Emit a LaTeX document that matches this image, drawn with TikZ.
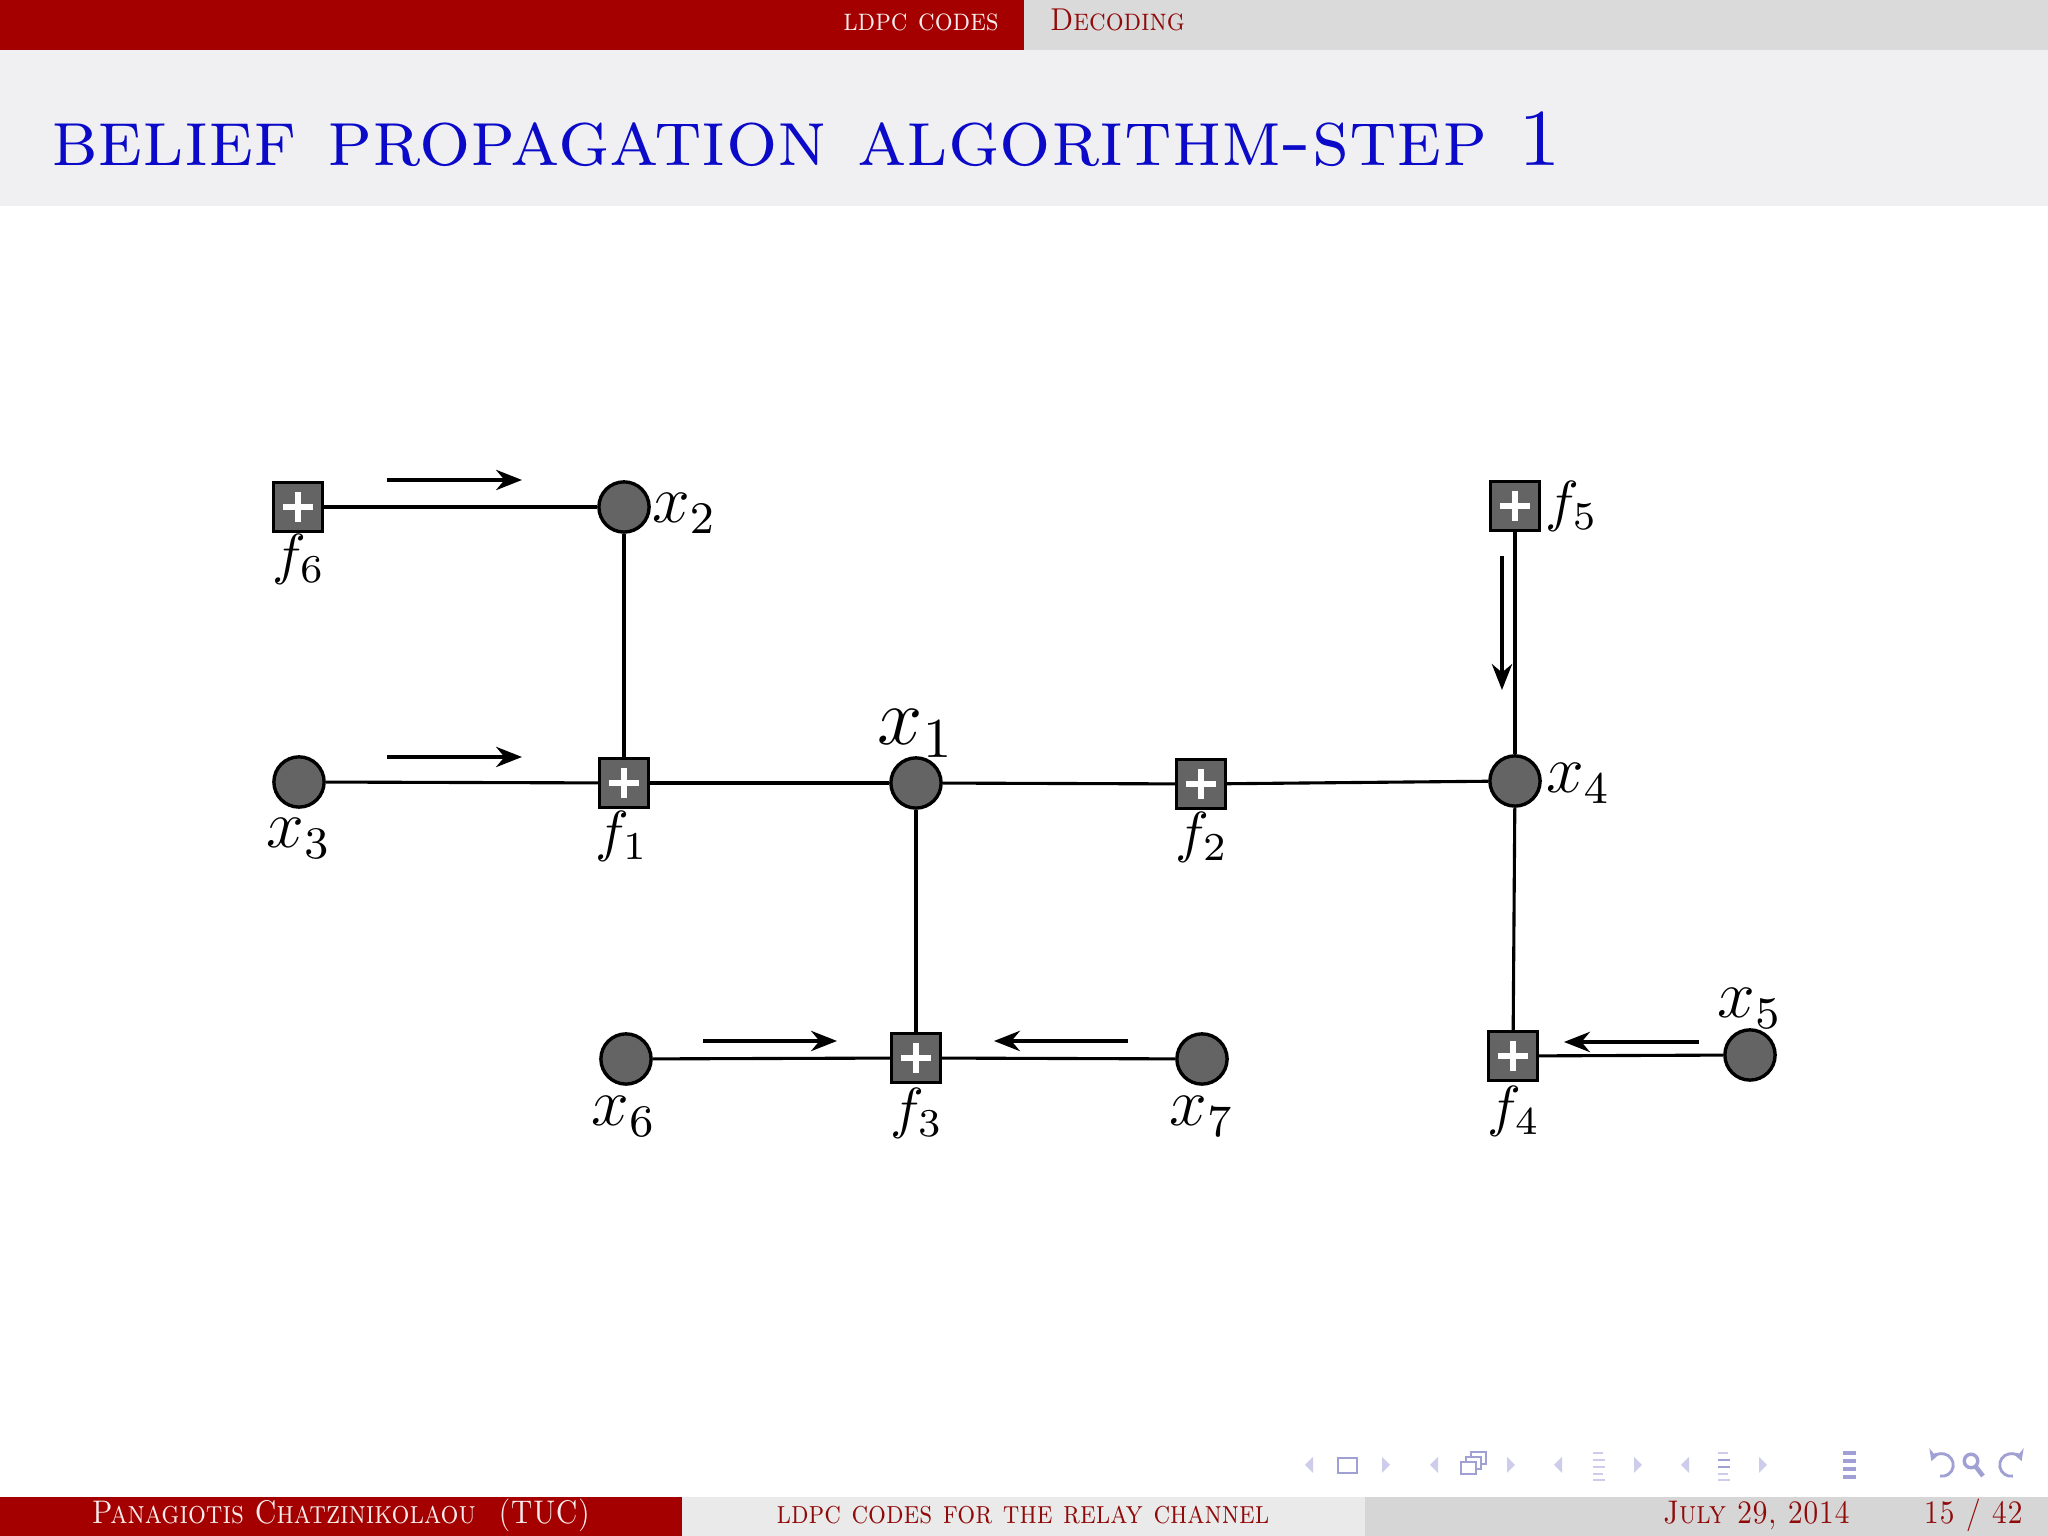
\documentclass[tikz,border=0pt]{standalone}
\usepackage{fontspec}
\usepackage{graphicx}
\usetikzlibrary{arrows.meta}
\definecolor{bred}{RGB}{164,0,0}
\definecolor{hgray}{RGB}{218,218,218}
\definecolor{tband}{RGB}{240,240,242}
\definecolor{fmid}{RGB}{234,234,234}
\definecolor{fright}{RGB}{214,214,214}
\definecolor{dred}{RGB}{145,10,10}
\definecolor{tblue}{RGB}{10,10,200}
\definecolor{ngray}{RGB}{100,100,100}
\definecolor{navd}{RGB}{160,160,212}
\definecolor{navl}{RGB}{205,205,235}
\tikzset{
  var/.style={circle, draw=black, fill=ngray, line width=0.6pt, minimum size=8.9pt, inner sep=0pt},
  chk/.style={rectangle, draw=black, fill=ngray, line width=0.6pt, minimum size=8.6pt, inner sep=0pt,
    path picture={\draw[white, line width=1pt]
      ([xshift=-2.6pt]path picture bounding box.center) -- ([xshift=2.6pt]path picture bounding box.center)
      ([yshift=-2.6pt]path picture bounding box.center) -- ([yshift=2.6pt]path picture bounding box.center);}},
  link/.style={line width=0.55pt},
  msg/.style={line width=0.6pt, -{Stealth[length=4.6pt, width=3.6pt]}},
  xl/.style={inner sep=0pt, font=\fontsize{11.5}{13}\selectfont},
  fl/.style={inner sep=0pt, font=\fontsize{9.8}{12}\selectfont},
  headtxt/.style={inner sep=0pt, font=\fontsize{5.6}{6}\selectfont\scshape},
  foottxt/.style={inner sep=0pt, font=\fontsize{5.8}{6}\selectfont\scshape},
  navtri/.style={fill=navl},
  navbox/.style={draw=navd, line width=0.5pt},
}
\begin{document}
\begin{tikzpicture}[x=0.17715pt,y=-0.17715pt]
\useasboundingbox (0,0) rectangle (2048,1536);
\fill[white] (0,0) rectangle (2048,1536);
% header
\fill[bred] (0,0) rectangle (1024,50);
\fill[hgray] (1024,0) rectangle (2048,50);
\node[headtxt, anchor=base east, text=white!92!bred] (sec) at (1000,31) {\scalebox{0.89}[1]{ldpc codes}};
\node[headtxt, anchor=base west, text=dred] (subsec) at (1049,31) {\scalebox{0.89}[1]{Decoding}};
% title band
\fill[tband] (0,50) rectangle (2048,206);
\node[inner sep=0pt, anchor=base west, text=tblue, font=\fontsize{14.3}{16}\selectfont\scshape] (title) at (50,166) {belief propagation algorithm-step 1};
% footer
\fill[bred] (0,1497) rectangle (682,1536);
\fill[fmid] (682,1497) rectangle (1365,1536);
\fill[fright] (1365,1497) rectangle (2048,1536);
\node[foottxt, anchor=base, text=white!92!bred] (author) at (341,1524) {\scalebox{0.86}[1]{Panagiotis Chatzinikolaou\hspace{0.8em}(TUC)}};
\node[foottxt, anchor=base, text=dred] (short) at (1023,1524) {\scalebox{0.86}[1]{ldpc codes for the relay channel}};
\node[foottxt, anchor=base east, text=dred] (date) at (1851,1524) {\scalebox{0.86}[1]{July 29, 2014}};
\node[foottxt, anchor=base east, text=dred] (page) at (2024,1524) {\scalebox{0.86}[1]{15 / 42}};
% navigation symbols
\foreach \c in {1309,1434,1558,1685}{
  \fill[navtri] (\c+4,1457) -- (\c-4,1465) -- (\c+4,1473) -- cycle;}
\foreach \c in {1386,1511,1638,1763}{
  \fill[navtri] (\c-4,1457) -- (\c+4,1465) -- (\c-4,1473) -- cycle;}
\draw[navbox] (1338,1458) rectangle (1357,1473);
\draw[navbox, fill=white] (1471,1452) rectangle (1486,1464);
\draw[navbox, fill=white] (1466,1457) rectangle (1481,1469);
\draw[navbox, fill=white] (1461,1462) rectangle (1476,1474);
\foreach \c/\k in {1599/navl,1724/navd}{
  \draw[navl, line width=0.45pt] (\c-6,1453) -- (\c+4,1453);
  \draw[\k, line width=0.45pt] (\c-6,1460) -- (\c+6,1460);
  \draw[\k, line width=0.45pt] (\c-6,1467) -- (\c+6,1467);
  \draw[navl, line width=0.45pt] (\c-6,1474) -- (\c+4,1474);
  \draw[navl, line width=0.45pt] (\c-6,1480) -- (\c+6,1480);}
\foreach \yy in {1453,1461,1469,1477}{
  \draw[navd, line width=0.65pt] (1843,\yy) -- (1856,\yy);}
\draw[navd, line width=0.5pt, -{Stealth[length=2pt,width=2.2pt]}] (1942,1465) ++(-100:2pt) arc[start angle=-100, end angle=160, radius=2pt];
\draw[navd, line width=0.6pt] (1971,1461) circle[radius=1.2pt];
\draw[navd, line width=0.8pt] (1976,1467) -- (1983,1476);
\draw[navd, line width=0.5pt, -{Stealth[length=2pt,width=2.2pt]}] (2011,1465) ++(280:2pt) arc[start angle=280, end angle=20, radius=2pt];
% graph nodes
\node[chk] (f6) at (298,507) {};
\node[var] (x2) at (624,507) {};
\node[var] (x3) at (299,782) {};
\node[chk] (f1) at (624,783) {};
\node[var] (x1) at (916,783) {};
\node[chk] (f2) at (1201,784) {};
\node[var] (x4) at (1515,781) {};
\node[chk] (f5) at (1515,506) {};
\node[var] (x6) at (626,1059) {};
\node[chk] (f3) at (916,1058) {};
\node[var] (x7) at (1202,1059) {};
\node[chk] (f4) at (1513,1056) {};
\node[var] (x5) at (1750,1055) {};
% graph edges
\draw[link] (f6) -- (x2);
\draw[link] (x2) -- (f1);
\draw[link] (x3) -- (f1);
\draw[link] (f1) -- (x1);
\draw[link] (x1) -- (f2);
\draw[link] (f2) -- (x4);
\draw[link] (f5) -- (x4);
\draw[link] (x1) -- (f3);
\draw[link] (x6) -- (f3);
\draw[link] (f3) -- (x7);
\draw[link] (x4) -- (f4);
\draw[link] (f4) -- (x5);
% labels
\node[fl, anchor=base] (lf6) at (299,574) {$f_6$};
\node[xl, anchor=base west] (lx2) at (651,523) {$x_2$};
\node[xl, anchor=base] (lx3) at (299,848) {$x_3$};
\node[fl, anchor=base] (lf1) at (622,851) {$f_1$};
\node[inner sep=0pt, font=\fontsize{14}{16}\selectfont, anchor=base] (lx1) at (916,745) {$x_1$};
\node[fl, anchor=base] (lf2) at (1202,852) {$f_2$};
\node[xl, anchor=base west] (lx4) at (1545,793) {$x_4$};
\node[fl, anchor=base west] (lf5) at (1544,521) {$f_5$};
\node[xl, anchor=base] (lx6) at (624,1126) {$x_6$};
\node[fl, anchor=base] (lf3) at (917,1128) {$f_3$};
\node[xl, anchor=base] (lx7) at (1202,1126) {$x_7$};
\node[fl, anchor=base] (lf4) at (1514,1126) {$f_4$};
\node[xl, anchor=base] (lx5) at (1750,1018) {$x_5$};
% message arrows
\coordinate (a1s) at (387,480); \coordinate (a1e) at (522,480);
\coordinate (a2s) at (387,757); \coordinate (a2e) at (522,757);
\coordinate (a3s) at (1502,556); \coordinate (a3e) at (1502,690);
\coordinate (a4s) at (703,1041); \coordinate (a4e) at (837,1041);
\coordinate (a5s) at (1128,1041); \coordinate (a5e) at (994,1041);
\coordinate (a6s) at (1699,1042); \coordinate (a6e) at (1564,1042);
\draw[msg] (a1s) -- (a1e);
\draw[msg] (a2s) -- (a2e);
\draw[msg] (a3s) -- (a3e);
\draw[msg] (a4s) -- (a4e);
\draw[msg] (a5s) -- (a5e);
\draw[msg] (a6s) -- (a6e);
\end{tikzpicture}
\end{document}
